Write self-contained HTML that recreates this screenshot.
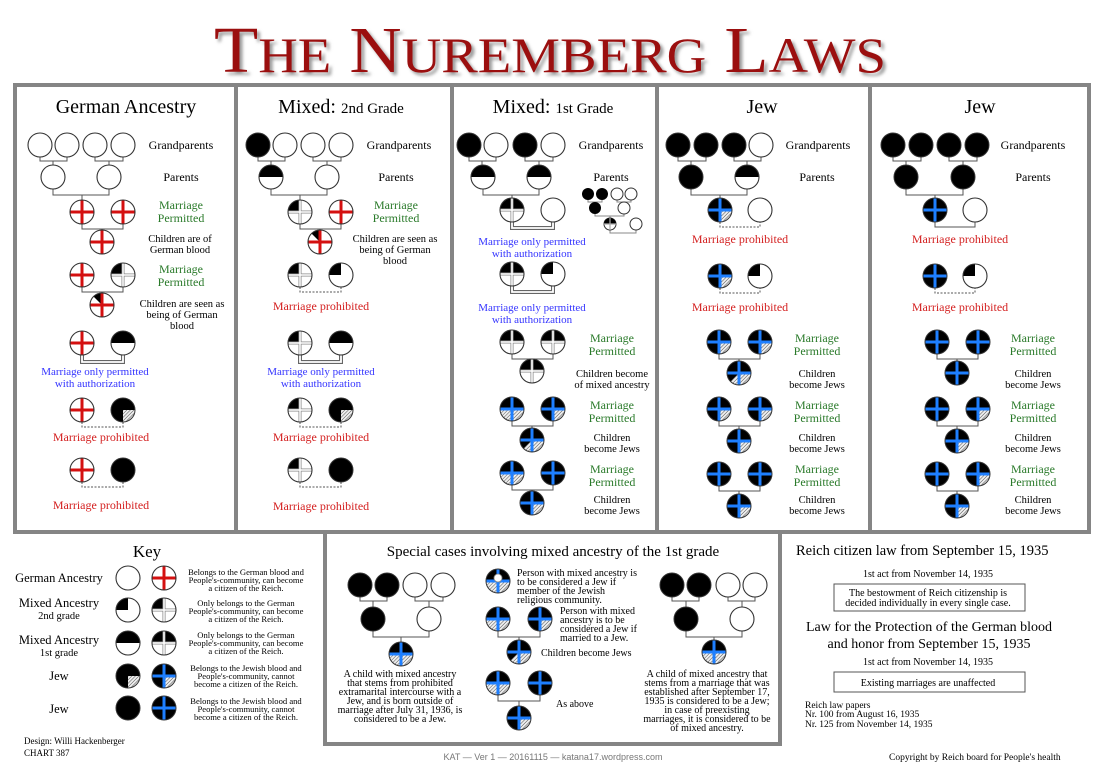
<!DOCTYPE html>
<html><head><meta charset="utf-8"><style>
html,body{margin:0;padding:0;background:#fff;}
svg{display:block;font-family:"Liberation Serif",serif;}
.g{fill:#2a7a2a}.r{fill:#d42020}.b{fill:#3535ff}
</style></head><body>
<svg width="1100" height="768" viewBox="0 0 1100 768" xmlns="http://www.w3.org/2000/svg" xmlns:xlink="http://www.w3.org/1999/xlink">
<defs>
<pattern id="ht" width="2.5" height="2.5" patternUnits="userSpaceOnUse" patternTransform="rotate(45)"><rect width="2.5" height="2.5" fill="#eee"/><line x1="0" y1="0" x2="0" y2="2.5" stroke="#555" stroke-width="1"/></pattern>
<filter id="sh"><feGaussianBlur stdDeviation="1.5"/></filter>
<g id="W"><circle r="12" fill="#fff" stroke="#333" stroke-width="1.1"/></g>
<g id="B"><circle r="12" fill="#000" stroke="#333"/></g>
<g id="H"><circle r="12" fill="#fff"/><path d="M-12,0A12,12 0 0 1 12,0Z"/><circle r="12" fill="none" stroke="#333" stroke-width="1.1"/></g>
<g id="Q"><circle r="12" fill="#fff"/><path d="M0,0H-12A12,12 0 0 1 0,-12Z"/><circle r="12" fill="none" stroke="#333" stroke-width="1.1"/></g>
<g id="R"><circle r="12" fill="#fff"/><path d="M-12,0H12M0,-12V12" stroke="#d41010" stroke-width="3"/><circle r="12" fill="none" stroke="#333" stroke-width="1.1"/></g>
<g id="RQ"><circle r="12" fill="#fff"/><path d="M0,0L-8.5,-8.5A12,12 0 0 1 0,-12Z"/><path d="M-12,0H12M0,-12V12" stroke="#d41010" stroke-width="3"/><circle r="12" fill="none" stroke="#333" stroke-width="1.1"/></g>
<g id="QX"><circle r="12" fill="#fff"/><path d="M0,0H-12A12,12 0 0 1 0,-12Z"/><path d="M-12,0H12M0,-12V12" stroke="#888" stroke-width="3"/><path d="M-12,0H12M0,-12V12" stroke="#fff" stroke-width="1.5"/><circle r="12" fill="none" stroke="#333" stroke-width="1.1"/></g>
<g id="HX"><circle r="12" fill="#fff"/><path d="M-12,0A12,12 0 0 1 12,0Z"/><path d="M-12,0H12M0,-12V12" stroke="#888" stroke-width="3"/><path d="M-12,0H12M0,-12V12" stroke="#fff" stroke-width="1.5"/><circle r="12" fill="none" stroke="#333" stroke-width="1.1"/></g>
<g id="JQ"><circle r="12" fill="#000"/><path d="M0,0H12A12,12 0 0 1 0,12Z" fill="url(#ht)"/><circle r="12" fill="none" stroke="#333"/></g>
<g id="JQb"><circle r="12" fill="#000"/><path d="M0,0H12A12,12 0 0 1 0,12Z" fill="url(#ht)"/><path d="M-12,0H12M0,-12V12" stroke="#1e7fff" stroke-width="3"/><circle r="12" fill="none" stroke="#333"/></g>
<g id="JB"><circle r="12" fill="#000"/><path d="M-12,0H12M0,-12V12" stroke="#1e7fff" stroke-width="3"/><circle r="12" fill="none" stroke="#333"/></g>
<g id="JH"><circle r="12" fill="#000"/><path d="M-12,0A12,12 0 0 0 12,0Z" fill="url(#ht)"/><path d="M-12,0H12M0,-12V12" stroke="#1e7fff" stroke-width="3"/><circle r="12" fill="none" stroke="#333"/></g>
<g id="JC"><circle r="12" fill="#000"/><path d="M0,0H12A12,12 0 0 1 -8.5,8.5Z" fill="url(#ht)"/><path d="M-12,0H12M0,-12V12" stroke="#1e7fff" stroke-width="3"/><circle r="12" fill="none" stroke="#333"/></g>
<g id="tree"><path d="M40 157V161H67V157M53 161V165M95 157V161H123V157M109 161V165M53 189V195H109V189M82 195V200" fill="none" stroke="#555"/></g>
</defs>

<!-- Title -->
<text x="550" y="72" text-anchor="middle" font-size="66" fill="#999" filter="url(#sh)" textLength="672" lengthAdjust="spacingAndGlyphs" transform="translate(3,3)">T<tspan font-size="50">HE</tspan> N<tspan font-size="50">UREMBERG</tspan> L<tspan font-size="50">AWS</tspan></text>
<text x="550" y="72" text-anchor="middle" font-size="66" fill="#9b0f0f" textLength="672" lengthAdjust="spacingAndGlyphs">T<tspan font-size="50">HE</tspan> N<tspan font-size="50">UREMBERG</tspan> L<tspan font-size="50">AWS</tspan></text>

<!-- Borders -->
<g fill="none" stroke="#858585" stroke-width="4">
<rect x="15" y="85" width="1074" height="447"/>
<path d="M236 85V532M452 85V532M657 85V532M870 85V532"/>
<rect x="325" y="532" width="455" height="212"/>
</g>

<!-- Headers -->
<g text-anchor="middle" font-size="20">
<text x="126" y="113">German Ancestry</text>
<text x="341" y="113">Mixed: <tspan font-size="15">2nd Grade</tspan></text>
<text x="553" y="113">Mixed: <tspan font-size="15">1st Grade</tspan></text>
<text x="762" y="113">Jew</text>
<text x="980" y="113">Jew</text>
</g>

<!-- PANEL 1 -->
<g font-size="12" text-anchor="middle">
<use xlink:href="#tree"/>
<use xlink:href="#W" x="40" y="145"/><use xlink:href="#W" x="67" y="145"/><use xlink:href="#W" x="95" y="145"/><use xlink:href="#W" x="123" y="145"/>
<use xlink:href="#W" x="53" y="177"/><use xlink:href="#W" x="109" y="177"/>
<text x="181" y="149">Grandparents</text><text x="181" y="181">Parents</text>
<path d="M82 224V229H123V224M102 229V230M82 287V292H123V287M102 292V293" fill="none" stroke="#555"/>
<use xlink:href="#R" x="82" y="212"/><use xlink:href="#R" x="123" y="212"/>
<text class="g" x="181" y="209">Marriage</text><text class="g" x="181" y="222">Permitted</text>
<use xlink:href="#R" x="102" y="242"/>
<text x="180" y="242" font-size="10.5">Children are of</text><text x="180" y="253" font-size="10.5">German blood</text>
<use xlink:href="#R" x="82" y="275"/><use xlink:href="#QX" x="123" y="275"/>
<text class="g" x="181" y="273">Marriage</text><text class="g" x="181" y="286">Permitted</text>
<use xlink:href="#RQ" x="102" y="305"/>
<text x="182" y="307" font-size="10.5">Children are seen as</text><text x="182" y="318" font-size="10.5">being of German</text><text x="182" y="329" font-size="10.5">blood</text>
<path d="M82 355V362H123V355" fill="none" stroke="#666" stroke-width="4"/><path d="M82 355V362H123V355" fill="none" stroke="#fff" stroke-width="1.8"/>
<use xlink:href="#R" x="82" y="343"/><use xlink:href="#H" x="123" y="343"/>
<text class="b" x="95" y="375" font-size="11">Marriage only permitted</text><text class="b" x="95" y="387" font-size="11">with authorization</text>
<path d="M82 422V427H123V422M82 482V487H123V482" fill="none" stroke="#555" stroke-dasharray="2,1.5"/>
<use xlink:href="#R" x="82" y="410"/><use xlink:href="#JQ" x="123" y="410"/>
<text class="r" x="101" y="441">Marriage prohibited</text>
<use xlink:href="#R" x="82" y="470"/><use xlink:href="#B" x="123" y="470"/>
<text class="r" x="101" y="509">Marriage prohibited</text>
</g>

<!-- PANEL 2 -->
<g font-size="12" text-anchor="middle" transform="translate(218,0)">
<use xlink:href="#tree"/>
<use xlink:href="#B" x="40" y="145"/><use xlink:href="#W" x="67" y="145"/><use xlink:href="#W" x="95" y="145"/><use xlink:href="#W" x="123" y="145"/>
<use xlink:href="#H" x="53" y="177"/><use xlink:href="#W" x="109" y="177"/>
<text x="181" y="149">Grandparents</text><text x="178" y="181">Parents</text>
<path d="M82 224V229H123V224M102 229V230" fill="none" stroke="#555"/>
<use xlink:href="#QX" x="82" y="212"/><use xlink:href="#R" x="123" y="212"/>
<text class="g" x="178" y="209">Marriage</text><text class="g" x="178" y="222">Permitted</text>
<use xlink:href="#RQ" x="102" y="242"/>
<text x="177" y="242" font-size="10.5">Children are seen as</text><text x="177" y="253" font-size="10.5">being of German</text><text x="177" y="264" font-size="10.5">blood</text>
<path d="M82 287V292H123V287M82 422V427H123V422M82 482V487H123V482" fill="none" stroke="#555" stroke-dasharray="2,1.5"/>
<use xlink:href="#QX" x="82" y="275"/><use xlink:href="#Q" x="123" y="275"/>
<text class="r" x="103" y="310">Marriage prohibited</text>
<path d="M82 355V362H123V355" fill="none" stroke="#666" stroke-width="4"/><path d="M82 355V362H123V355" fill="none" stroke="#fff" stroke-width="1.8"/>
<use xlink:href="#QX" x="82" y="343"/><use xlink:href="#H" x="123" y="343"/>
<text class="b" x="103" y="375" font-size="11">Marriage only permitted</text><text class="b" x="103" y="387" font-size="11">with authorization</text>
<use xlink:href="#QX" x="82" y="410"/><use xlink:href="#JQ" x="123" y="410"/>
<text class="r" x="103" y="441">Marriage prohibited</text>
<use xlink:href="#QX" x="82" y="470"/><use xlink:href="#B" x="123" y="470"/>
<text class="r" x="103" y="510">Marriage prohibited</text>
</g>

<!-- PANEL 3 -->
<g font-size="12" text-anchor="middle" transform="translate(429,0)">
<path d="M40 157V161H67V157M53 161V165M96 157V161H124V157M110 161V165M54 189V195H110V189M83 195V198" fill="none" stroke="#555"/>
<use xlink:href="#B" x="40" y="145"/><use xlink:href="#W" x="67" y="145"/><use xlink:href="#B" x="96" y="145"/><use xlink:href="#W" x="124" y="145"/>
<use xlink:href="#H" x="54" y="177"/><use xlink:href="#H" x="110" y="177"/>
<text x="182" y="149">Grandparents</text><text x="182" y="181">Parents</text>
<path d="M83 222V228H124V222M83 286V292H124V286" fill="none" stroke="#666" stroke-width="4"/><path d="M83 222V228H124V222M83 286V292H124V286" fill="none" stroke="#fff" stroke-width="1.8"/>
<use xlink:href="#HX" x="83" y="210"/><use xlink:href="#W" x="124" y="210"/>
<text class="b" x="103" y="245" font-size="11">Marriage only permitted</text><text class="b" x="103" y="257" font-size="11">with authorization</text>
<use xlink:href="#HX" x="83" y="274"/><use xlink:href="#Q" x="124" y="274"/>
<text class="b" x="103" y="311" font-size="11">Marriage only permitted</text><text class="b" x="103" y="323" font-size="11">with authorization</text>
<path d="M83 354V359H124V354M103 359V359M83 421V426H124V421M103 426V428M83 485V490H124V485M103 490V491" fill="none" stroke="#555"/>
<use xlink:href="#HX" x="83" y="342"/><use xlink:href="#HX" x="124" y="342"/><use xlink:href="#HX" x="103" y="371"/>
<text class="g" x="183" y="342">Marriage</text><text class="g" x="183" y="355">Permitted</text>
<text x="183" y="377" font-size="10.5">Children become</text><text x="183" y="388" font-size="10.5">of mixed ancestry</text>
<use xlink:href="#JH" x="83" y="409"/><use xlink:href="#JQb" x="124" y="409"/><use xlink:href="#JC" x="103" y="440"/>
<text class="g" x="183" y="409">Marriage</text><text class="g" x="183" y="422">Permitted</text>
<text x="183" y="441" font-size="10.5">Children</text><text x="183" y="452" font-size="10.5">become Jews</text>
<use xlink:href="#JH" x="83" y="473"/><use xlink:href="#JB" x="124" y="473"/><use xlink:href="#JQb" x="103" y="503"/>
<text class="g" x="183" y="473">Marriage</text><text class="g" x="183" y="486">Permitted</text>
<text x="183" y="503" font-size="10.5">Children</text><text x="183" y="514" font-size="10.5">become Jews</text>
</g>
<!-- inset -->
<g>
<path d="M588 200V202H602V200M595 202V202M617 200V202H631V200M624 202V202M595 214V216H624V214M610 216V218M610 230V233H636V230" fill="none" stroke="#888"/>
<circle cx="588" cy="194" r="6"/><circle cx="602" cy="194" r="6"/><circle cx="617" cy="194" r="6" fill="#fff" stroke="#333"/><circle cx="631" cy="194" r="6" fill="#fff" stroke="#333"/>
<circle cx="595" cy="208" r="6"/><circle cx="624" cy="208" r="6" fill="#fff" stroke="#333"/>
<circle cx="610" cy="224" r="6" fill="#fff" stroke="#333"/><path d="M604 224A6 6 0 0 1 616 224Z"/><path d="M604 224H616M610 218V230" stroke="#aaa" stroke-width="1.2"/>
<circle cx="636" cy="224" r="6" fill="#fff" stroke="#333"/>
</g>

<!-- PANEL 4 -->
<g font-size="12" text-anchor="middle" transform="translate(638,0)">
<path d="M40 157V161H68V157M53 161V165M96 157V161H123V157M109 161V165M53 189V195H109V189M82 195V198" fill="none" stroke="#555"/>
<use xlink:href="#B" x="40" y="145"/><use xlink:href="#B" x="68" y="145"/><use xlink:href="#B" x="96" y="145"/><use xlink:href="#W" x="123" y="145"/>
<use xlink:href="#B" x="53" y="177"/><use xlink:href="#H" x="109" y="177"/>
<text x="180" y="149">Grandparents</text><text x="179" y="181">Parents</text>
<path d="M82 222V227H122V222M82 288V293H122V288" fill="none" stroke="#555" stroke-dasharray="2,1.5"/>
<use xlink:href="#JQb" x="82" y="210"/><use xlink:href="#W" x="122" y="210"/>
<text class="r" x="102" y="243">Marriage prohibited</text>
<use xlink:href="#JQb" x="82" y="276"/><use xlink:href="#Q" x="122" y="276"/>
<text class="r" x="102" y="311">Marriage prohibited</text>
<path d="M81 354V359H122V354M101 359V361M81 421V426H122V421M101 426V429M81 486V491H122V486M101 491V494" fill="none" stroke="#555"/>
<use xlink:href="#JQb" x="81" y="342"/><use xlink:href="#JQb" x="122" y="342"/><use xlink:href="#JC" x="101" y="373"/>
<text class="g" x="179" y="342">Marriage</text><text class="g" x="179" y="355">Permitted</text>
<text x="179" y="377" font-size="10.5">Children</text><text x="179" y="388" font-size="10.5">become Jews</text>
<use xlink:href="#JQb" x="81" y="409"/><use xlink:href="#JQb" x="122" y="409"/><use xlink:href="#JQb" x="101" y="441"/>
<text class="g" x="179" y="409">Marriage</text><text class="g" x="179" y="422">Permitted</text>
<text x="179" y="441" font-size="10.5">Children</text><text x="179" y="452" font-size="10.5">become Jews</text>
<use xlink:href="#JB" x="81" y="474"/><use xlink:href="#JB" x="122" y="474"/><use xlink:href="#JQb" x="101" y="506"/>
<text class="g" x="179" y="473">Marriage</text><text class="g" x="179" y="486">Permitted</text>
<text x="179" y="503" font-size="10.5">Children</text><text x="179" y="514" font-size="10.5">become Jews</text>
</g>

<!-- PANEL 5 -->
<g font-size="12" text-anchor="middle" transform="translate(853,0)">
<path d="M40 157V161H68V157M53 161V165M96 157V161H124V157M110 161V165M53 189V195H110V189M82 195V198" fill="none" stroke="#555"/>
<use xlink:href="#B" x="40" y="145"/><use xlink:href="#B" x="68" y="145"/><use xlink:href="#B" x="96" y="145"/><use xlink:href="#B" x="124" y="145"/>
<use xlink:href="#B" x="53" y="177"/><use xlink:href="#B" x="110" y="177"/>
<text x="180" y="149">Grandparents</text><text x="180" y="181">Parents</text>
<path d="M82 222V227H122V222" fill="none" stroke="#555"/>
<path d="M82 288V293H122V288" fill="none" stroke="#555" stroke-dasharray="2,1.5"/>
<use xlink:href="#JB" x="82" y="210"/><use xlink:href="#W" x="122" y="210"/>
<text class="r" x="107" y="243">Marriage prohibited</text>
<use xlink:href="#JB" x="82" y="276"/><use xlink:href="#Q" x="122" y="276"/>
<text class="r" x="107" y="311">Marriage prohibited</text>
<path d="M84 354V359H125V354M104 359V361M84 421V426H125V421M104 426V429M84 486V491H125V486M104 491V494" fill="none" stroke="#555"/>
<use xlink:href="#JB" x="84" y="342"/><use xlink:href="#JB" x="125" y="342"/><use xlink:href="#JB" x="104" y="373"/>
<text class="g" x="180" y="342">Marriage</text><text class="g" x="180" y="355">Permitted</text>
<text x="180" y="377" font-size="10.5">Children</text><text x="180" y="388" font-size="10.5">become Jews</text>
<use xlink:href="#JB" x="84" y="409"/><use xlink:href="#JQb" x="125" y="409"/><use xlink:href="#JQb" x="104" y="441"/>
<text class="g" x="180" y="409">Marriage</text><text class="g" x="180" y="422">Permitted</text>
<text x="180" y="441" font-size="10.5">Children</text><text x="180" y="452" font-size="10.5">become Jews</text>
<use xlink:href="#JB" x="84" y="474"/><use xlink:href="#JQb" x="125" y="474"/><use xlink:href="#JQb" x="104" y="506"/>
<text class="g" x="180" y="473">Marriage</text><text class="g" x="180" y="486">Permitted</text>
<text x="180" y="503" font-size="10.5">Children</text><text x="180" y="514" font-size="10.5">become Jews</text>
</g>

<!-- KEY -->
<g text-anchor="middle">
<text x="147" y="557" font-size="17">Key</text>
<g font-size="12.5">
<text x="59" y="582">German Ancestry</text>
<text x="59" y="607">Mixed Ancestry</text><text x="59" y="619" font-size="10.5">2nd grade</text>
<text x="59" y="644">Mixed Ancestry</text><text x="59" y="656" font-size="10.5">1st grade</text>
<text x="59" y="680">Jew</text>
<text x="59" y="713">Jew</text>
</g>
<use xlink:href="#W" x="128" y="578"/><use xlink:href="#R" x="164" y="578"/>
<use xlink:href="#Q" x="128" y="610"/><use xlink:href="#QX" x="164" y="610"/>
<use xlink:href="#H" x="128" y="643"/><use xlink:href="#HX" x="164" y="643"/>
<use xlink:href="#JQ" x="128" y="676"/><use xlink:href="#JQb" x="164" y="676"/>
<use xlink:href="#B" x="128" y="708"/><use xlink:href="#JB" x="164" y="708"/>
<g font-size="8.6">
<text x="246" y="575">Belongs to the German blood and</text><text x="246" y="583">People's-community, can become</text><text x="246" y="591">a citizen of the Reich.</text>
<text x="246" y="606">Only belongs to the German</text><text x="246" y="614">People's-community, can become</text><text x="246" y="622">a citizen of the Reich.</text>
<text x="246" y="638">Only belongs to the German</text><text x="246" y="646">People's-community, can become</text><text x="246" y="654">a citizen of the Reich.</text>
<text x="246" y="671">Belongs to the Jewish blood and</text><text x="246" y="679">People's-community, cannot</text><text x="246" y="687">become a citizen of the Reich.</text>
<text x="246" y="704">Belongs to the Jewish blood and</text><text x="246" y="712">People's-community, cannot</text><text x="246" y="720">become a citizen of the Reich.</text>
</g>
</g>
<text x="24" y="744" font-size="9">Design: Willi Hackenberger</text>
<text x="24" y="756" font-size="9">CHART 387</text>

<!-- SPECIAL CASES -->
<text x="553" y="556" text-anchor="middle" font-size="15">Special cases involving mixed ancestry of the 1st grade</text>
<path d="M360 597V601H387V597M373 601V607M415 597V601H443V597M429 601V607M373 631V637H429V631M401 637V642" fill="none" stroke="#555"/>
<use xlink:href="#B" x="360" y="585"/><use xlink:href="#B" x="387" y="585"/><use xlink:href="#W" x="415" y="585"/><use xlink:href="#W" x="443" y="585"/>
<use xlink:href="#B" x="373" y="619"/><use xlink:href="#W" x="429" y="619"/>
<use xlink:href="#JH" x="401" y="654"/>
<g font-size="10" text-anchor="middle">
<text x="400" y="677">A child with mixed ancestry</text><text x="400" y="686">that stems from prohibited</text><text x="400" y="695">extramarital intercourse with a</text><text x="400" y="704">Jew, and is born outside of</text><text x="400" y="713">marriage after July 31, 1936, is</text><text x="400" y="722">considered to be a Jew.</text>
</g>
<path d="M672 597V601H699V597M686 601V607M728 597V601H755V597M742 601V607M686 631V637H742V631M714 637V640" fill="none" stroke="#555"/>
<use xlink:href="#B" x="672" y="585"/><use xlink:href="#B" x="699" y="585"/><use xlink:href="#W" x="728" y="585"/><use xlink:href="#W" x="755" y="585"/>
<use xlink:href="#B" x="686" y="619"/><use xlink:href="#W" x="742" y="619"/>
<use xlink:href="#JH" x="714" y="652"/>
<g font-size="10" text-anchor="middle">
<text x="707" y="677">A child of mixed ancestry that</text><text x="707" y="686">stems from a marriage that was</text><text x="707" y="695">established after September 17,</text><text x="707" y="704">1935 is considered to be a Jew;</text><text x="707" y="713">in case of preexisting</text><text x="707" y="722">marriages, it is considered to be</text><text x="707" y="731">of mixed ancestry.</text>
</g>
<use xlink:href="#JH" x="498" y="581"/>
<circle cx="498" cy="578" r="4" fill="#fff" stroke="#888" stroke-width="0.8"/>
<g font-size="10">
<text x="517" y="576">Person with mixed ancestry is</text><text x="517" y="585">to be considered a Jew if</text><text x="517" y="594">member of the Jewish</text><text x="517" y="603">religious community.</text>
<text x="560" y="614">Person with mixed</text><text x="560" y="623">ancestry is to be</text><text x="560" y="632">considered a Jew if</text><text x="560" y="641">married to a Jew.</text>
<text x="541" y="656">Children become Jews</text>
<text x="556" y="707">As above</text>
</g>
<path d="M498 631V637H540V631M519 637V640M498 695V701H540V695M519 701V706" fill="none" stroke="#555"/>
<use xlink:href="#JH" x="498" y="619"/><use xlink:href="#JQb" x="540" y="619"/><use xlink:href="#JC" x="519" y="652"/>
<use xlink:href="#JH" x="498" y="683"/><use xlink:href="#JB" x="540" y="683"/><use xlink:href="#JQb" x="519" y="718"/>

<text x="553" y="760" text-anchor="middle" font-size="9" fill="#777" font-family="Liberation Sans,sans-serif">KAT — Ver 1 — 20161115 — katana17.wordpress.com</text>

<!-- RIGHT -->
<text x="796" y="555" font-size="14.5">Reich citizen law from September 15, 1935</text>
<g text-anchor="middle" font-size="10">
<text x="928" y="577">1st act from November 14, 1935</text>
<rect x="834" y="584" width="191" height="27" fill="none" stroke="#555"/>
<text x="928" y="596">The bestowment of Reich citizenship is</text><text x="928" y="606">decided individually in every single case.</text>
<text x="929" y="631" font-size="14">Law for the Protection of the German blood</text>
<text x="929" y="648" font-size="14">and honor from September 15, 1935</text>
<text x="928" y="665">1st act from November 14, 1935</text>
<rect x="834" y="672" width="191" height="20" fill="none" stroke="#555"/>
<text x="928" y="686">Existing marriages are unaffected</text>
</g>
<g font-size="9.5">
<text x="805" y="708">Reich law papers</text><text x="805" y="717">Nr. 100 from August 16, 1935</text><text x="805" y="727">Nr. 125 from November 14, 1935</text>
<text x="889" y="760">Copyright by Reich board for People's health</text>
</g>
</svg>
</body></html>
